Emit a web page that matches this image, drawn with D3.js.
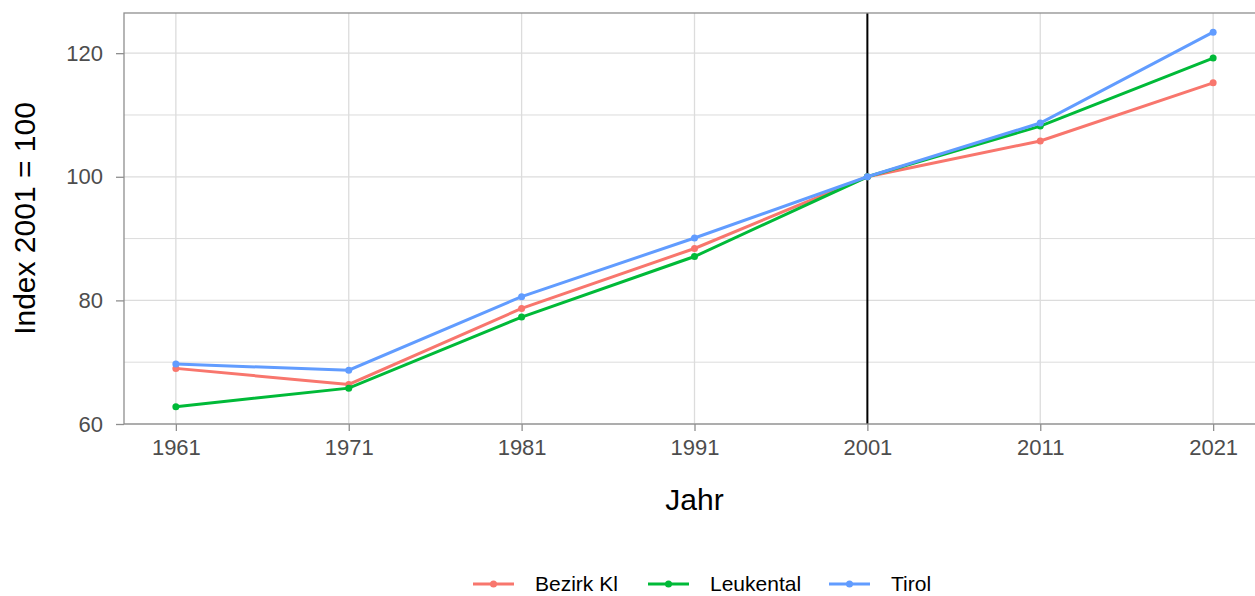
<!DOCTYPE html>
<html lang="de">
<head>
    <meta charset="UTF-8">
    <script src="https://d3js.org/d3.v7.min.js"></script>
    <style>
        body { margin: 0; background: #fff; }
        svg text { font-family: "Liberation Sans", Arial, sans-serif; }
    </style>
</head>
<body>
    <svg width="1255" height="596"></svg>
    <script>
        // data
        const years = [1961, 1971, 1981, 1991, 2001, 2011, 2021];
        const bezirkKl = [69.0, 66.4, 78.7, 88.4, 100, 105.8, 115.2];
        const leukental = [62.8, 65.8, 77.3, 87.1, 100, 108.2, 119.2];
        const tirol = [69.7, 68.7, 80.6, 90.1, 100, 108.7, 123.4];
        const seriesNames = ['Bezirk Kl', 'Leukental', 'Tirol'];
        const seriesColors = ['#F8766D', '#00BA38', '#619CFF'];
        const yTicks = [60, 80, 100, 120];
        const yMinor = [70, 90, 110];
        const refYear = 2001;

        const series = [bezirkKl, leukental, tirol].map((vals, i) => ({
            name: seriesNames[i],
            color: seriesColors[i],
            values: vals.map((v, j) => ({ year: years[j], value: v }))
        }));

        const svg = d3.select('svg');

        // panel extends a bit past the right edge of the picture
        const x = d3.scaleLinear().domain([1958, 2024]).range([124, 1265]);
        const y = d3.scaleLinear().domain([60, 126.5]).range([424, 13]);

        const g = svg.append('g');

        // grid
        g.selectAll('.minor').data(yMinor).enter().append('line')
            .attr('x1', x(1958)).attr('x2', x(2024))
            .attr('y1', d => y(d)).attr('y2', d => y(d))
            .attr('stroke', '#dcdcdc').attr('stroke-width', 1);
        g.selectAll('.hgrid').data(yTicks).enter().append('line')
            .attr('x1', x(1958)).attr('x2', x(2024))
            .attr('y1', d => y(d)).attr('y2', d => y(d))
            .attr('stroke', '#dcdcdc').attr('stroke-width', 1.3);
        g.selectAll('.vgrid').data(years).enter().append('line')
            .attr('x1', d => x(d)).attr('x2', d => x(d))
            .attr('y1', y(60)).attr('y2', y(126.5))
            .attr('stroke', '#dcdcdc').attr('stroke-width', 1.3);

        // reference line
        g.append('line')
            .attr('x1', x(refYear)).attr('x2', x(refYear))
            .attr('y1', y(60)).attr('y2', y(126.5))
            .attr('stroke', '#000').attr('stroke-width', 2);

        // lines + points
        const line = d3.line().x(d => x(d.year)).y(d => y(d.value));
        series.forEach(s => {
            g.append('path').datum(s.values)
                .attr('d', line)
                .attr('fill', 'none')
                .attr('stroke', s.color)
                .attr('stroke-width', 3);
            g.selectAll(null).data(s.values).enter().append('circle')
                .attr('cx', d => x(d.year)).attr('cy', d => y(d.value))
                .attr('r', 3.5).attr('fill', s.color);
        });

        // panel border
        g.append('rect')
            .attr('x', x(1958)).attr('y', y(126.5))
            .attr('width', x(2024) - x(1958)).attr('height', y(60) - y(126.5))
            .attr('fill', 'none').attr('stroke', '#8f8f8f').attr('stroke-width', 1.3);

        // axes
        const yAxis = svg.append('g')
            .attr('transform', `translate(${x(1958)},0)`)
            .call(d3.axisLeft(y).tickValues(yTicks).tickSize(8).tickPadding(13));
        const xAxis = svg.append('g')
            .attr('transform', `translate(0,${y(60)})`)
            .call(d3.axisBottom(x).tickValues(years).tickFormat(d3.format('d')).tickSize(7).tickPadding(8));
        [xAxis, yAxis].forEach(a => {
            a.select('.domain').remove();
            a.selectAll('line').attr('stroke', '#8f8f8f').attr('stroke-width', 1.3);
            a.selectAll('text').attr('fill', '#4d4d4d').style('font-size', '22px')
                .style('font-family', '"Liberation Sans", Arial, sans-serif');
        });

        // titles
        svg.append('text')
            .attr('x', (x(1958) + x(2024)) / 2).attr('y', 510)
            .attr('text-anchor', 'middle').attr('fill', '#000')
            .style('font-size', '30px').text('Jahr');
        svg.append('text')
            .attr('transform', `translate(35,${(y(60) + y(126.5)) / 2}) rotate(-90)`)
            .attr('text-anchor', 'middle').attr('fill', '#000')
            .style('font-size', '30px').text('Index 2001 = 100');

        // legend
        const legendX = [473, 648, 829];
        const legend = svg.append('g').attr('transform', 'translate(0,584)');
        series.forEach((s, i) => {
            const lg = legend.append('g').attr('transform', `translate(${legendX[i]},0)`);
            lg.append('line').attr('x1', 0).attr('x2', 41).attr('y1', 0).attr('y2', 0)
                .attr('stroke', s.color).attr('stroke-width', 3);
            lg.append('circle').attr('cx', 20.5).attr('cy', 0).attr('r', 3.5).attr('fill', s.color);
            lg.append('text').attr('x', 62).attr('y', 0).attr('dy', '0.35em')
                .attr('fill', '#000').style('font-size', '21px').text(s.name);
        });
    </script>
</body>
</html>
